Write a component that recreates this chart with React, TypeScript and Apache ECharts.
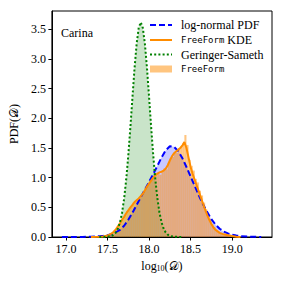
import React, { useEffect, useRef } from "react";
import * as echarts from "echarts";

// ---- data ----
const xTicks = [17.0, 17.5, 18.0, 18.5, 19.0];
const yTicks = [0, 0.5, 1.0, 1.5, 2.0, 2.5, 3.0, 3.5];

// log-normal PDF (blue dashed)
const lognX = [16.95, 17.1, 17.2, 17.3, 17.4, 17.45, 17.5, 17.55, 17.6, 17.65, 17.7, 17.75, 17.8, 17.85, 17.9, 17.95, 18.0, 18.05, 18.1, 18.15, 18.2, 18.25, 18.3, 18.35, 18.4, 18.45, 18.5, 18.55, 18.6, 18.65, 18.7, 18.75, 18.8, 18.85, 18.9, 18.95, 19.0, 19.05, 19.1, 19.2, 19.3, 19.35];
const lognY = [0.0, 0.0, 0.001, 0.004, 0.012, 0.02, 0.03, 0.05, 0.08, 0.12, 0.19, 0.29, 0.41, 0.54, 0.67, 0.8, 0.93, 1.06, 1.2, 1.34, 1.46, 1.53, 1.52, 1.45, 1.33, 1.18, 1.02, 0.86, 0.7, 0.55, 0.42, 0.3, 0.21, 0.14, 0.09, 0.06, 0.04, 0.025, 0.015, 0.006, 0.002, 0.0];

// FreeForm KDE (orange solid)
const kdeX = [17.3, 17.4, 17.45, 17.5, 17.525, 17.55, 17.575, 17.6, 17.625, 17.65, 17.675, 17.7, 17.725, 17.75, 17.775, 17.8, 17.825, 17.85, 17.875, 17.9, 17.925, 17.95, 17.975, 18.0, 18.025, 18.05, 18.075, 18.1, 18.125, 18.15, 18.175, 18.2, 18.225, 18.25, 18.275, 18.3, 18.325, 18.35, 18.375, 18.4, 18.425, 18.45, 18.475, 18.5, 18.525, 18.55, 18.575, 18.6, 18.625, 18.65, 18.675, 18.7, 18.725, 18.75, 18.775, 18.8, 18.85, 18.9, 18.95, 19.0, 19.05, 19.1];
const kdeY = [0.0, 0.005, 0.01, 0.025, 0.04, 0.06, 0.09, 0.13, 0.18, 0.23, 0.29, 0.34, 0.4, 0.45, 0.5, 0.54, 0.59, 0.62, 0.65, 0.69, 0.73, 0.79, 0.85, 0.9, 0.95, 1.0, 1.04, 1.07, 1.09, 1.1, 1.12, 1.15, 1.21, 1.29, 1.36, 1.41, 1.44, 1.47, 1.5, 1.54, 1.6, 1.5, 1.34, 1.18, 1.06, 0.96, 0.86, 0.76, 0.66, 0.56, 0.46, 0.37, 0.29, 0.22, 0.16, 0.12, 0.07, 0.045, 0.03, 0.015, 0.005, 0.0];

// Geringer-Sameth (green dotted)
const gsX = [17.4, 17.5, 17.55, 17.575, 17.6, 17.625, 17.65, 17.675, 17.7, 17.725, 17.75, 17.775, 17.8, 17.825, 17.85, 17.875, 17.9, 17.925, 17.95, 17.975, 18.0, 18.025, 18.05, 18.075, 18.1, 18.125, 18.15, 18.175, 18.2, 18.225, 18.25, 18.3, 18.4];
const gsY = [0.0, 0.004, 0.019, 0.039, 0.076, 0.142, 0.248, 0.413, 0.652, 0.974, 1.38, 1.852, 2.358, 2.845, 3.252, 3.524, 3.62, 3.524, 3.252, 2.845, 2.358, 1.852, 1.38, 0.974, 0.652, 0.413, 0.248, 0.142, 0.076, 0.039, 0.019, 0.004, 0.0];

// FreeForm histogram (orange bars)
const binStart = 17.4;
const binWidth = 0.025;
const histY = [0.0, 0.01, 0.01, 0.02, 0.03, 0.05, 0.07, 0.12, 0.15, 0.2, 0.26, 0.31, 0.36, 0.44, 0.47, 0.52, 0.58, 0.6, 0.64, 0.66, 0.72, 0.76, 0.82, 0.86, 0.93, 0.98, 0.99, 1.06, 1.08, 1.05, 1.12, 1.16, 1.14, 1.25, 1.33, 1.35, 1.43, 1.42, 1.5, 1.52, 1.58, 1.72, 1.55, 1.3, 1.2, 1.12, 0.98, 0.92, 0.78, 0.7, 0.58, 0.47, 0.38, 0.3, 0.22, 0.17, 0.12, 0.09, 0.07, 0.05, 0.04, 0.03, 0.02, 0.015, 0.01, 0.005];

const SERIF = "'Liberation Serif', 'DejaVu Serif', serif";
const MONO = "'DejaVu Sans Mono', 'Liberation Mono', monospace";
const CALD = "\u{1D49F}";

const pairs = (xs: number[], ys: number[]) => xs.map((x, i) => [x, ys[i]]);

export default function App() {
  const ref = useRef<HTMLDivElement>(null);
  useEffect(() => {
    if (!ref.current) return;
    const chart = echarts.init(ref.current, null, { renderer: "svg" });
    const histData = histY.map((h, i) => [
      +(binStart + i * binWidth).toFixed(4),
      +(binStart + (i + 1) * binWidth).toFixed(4),
      h,
    ]);
    const legendX0 = 150;
    const legendX1 = 172;
    const textX = 181;
    const rows = [25, 40, 54.5, 69];
    chart.setOption({
      animation: false,
      textStyle: { fontFamily: SERIF },
      grid: {
        left: 50,
        right: 12,
        top: 11,
        bottom: 47,
        show: true,
        borderColor: "#000",
        borderWidth: 1,
        backgroundColor: "transparent",
      },
      xAxis: {
        type: "value",
        min: 16.83,
        max: 19.48,
        name: "log{s|10}(" + CALD + ")",
        nameLocation: "middle",
        nameGap: 21,
        nameTextStyle: {
          fontFamily: SERIF,
          fontSize: 12,
          color: "#000",
          rich: { s: { fontSize: 8, fontFamily: SERIF, color: "#000", verticalAlign: "bottom", padding: [6, 0, 0, 0] } },
        },
        axisLine: { show: true, onZero: false, lineStyle: { color: "#000", width: 1 } },
        axisTick: { show: true, customValues: xTicks, length: 3.5, lineStyle: { color: "#000" } },
        axisLabel: {
          customValues: xTicks,
          formatter: (v: number) => v.toFixed(1),
          fontFamily: SERIF,
          fontSize: 12,
          color: "#000",
          margin: 6,
        },
        splitLine: { show: false },
      },
      yAxis: {
        type: "value",
        min: 0,
        max: 3.81,
        name: "PDF(" + CALD + ")",
        nameLocation: "middle",
        nameGap: 30,
        nameRotate: 90,
        nameTextStyle: { fontFamily: SERIF, fontSize: 12, color: "#000" },
        axisLine: { show: true, onZero: false, lineStyle: { color: "#000", width: 1 } },
        axisTick: { show: true, customValues: yTicks, length: 3.5, lineStyle: { color: "#000" } },
        axisLabel: {
          customValues: yTicks,
          formatter: (v: number) => v.toFixed(1),
          fontFamily: SERIF,
          fontSize: 12,
          color: "#000",
          margin: 6,
        },
        splitLine: { show: false },
      },
      series: [
        {
          name: "log-normal fill",
          type: "line",
          data: pairs(lognX, lognY),
          symbol: "none",
          lineStyle: { width: 0, opacity: 0 },
          areaStyle: { color: "rgba(0,0,255,0.3)" },
          z: 1,
          silent: true,
        },
        {
          name: "Geringer-Sameth fill",
          type: "line",
          data: pairs(gsX, gsY),
          symbol: "none",
          lineStyle: { width: 0, opacity: 0 },
          areaStyle: { color: "rgba(0,128,0,0.3)" },
          z: 1,
          silent: true,
        },
        {
          name: "FreeForm",
          type: "custom",
          data: histData,
          encode: { x: [0, 1], y: 2 },
          z: 2,
          renderItem: (params: any, api: any) => {
            const p0 = api.coord([api.value(0), api.value(2)]);
            const p1 = api.coord([api.value(1), 0]);
            return {
              type: "rect",
              shape: { x: p0[0], y: p0[1], width: p1[0] - p0[0], height: p1[1] - p0[1] },
              style: { fill: "rgba(255,140,0,0.5)", stroke: "none" },
            };
          },
        },
        {
          name: "log-normal PDF",
          type: "line",
          data: pairs(lognX, lognY),
          symbol: "none",
          lineStyle: { color: "#0000ff", width: 2, type: [6, 3] },
          z: 3,
        },
        {
          name: "FreeForm KDE",
          type: "line",
          data: pairs(kdeX, kdeY),
          symbol: "none",
          lineStyle: { color: "#ff8c00", width: 2 },
          z: 4,
        },
        {
          name: "Geringer-Sameth",
          type: "line",
          data: pairs(gsX, gsY),
          symbol: "none",
          lineStyle: { color: "#008000", width: 2, type: [2, 2.2] },
          z: 5,
        },
      ],
      graphic: [
        {
          type: "text",
          left: 61,
          top: 27,
          style: { text: "Carina", font: "12px " + SERIF, fill: "#000" },
        },
        {
          type: "line",
          shape: { x1: legendX0, y1: rows[0], x2: legendX1, y2: rows[0] },
          style: { stroke: "#0000ff", lineWidth: 2, lineDash: [6, 3] },
        },
        {
          type: "text",
          x: textX,
          y: rows[0],
          style: { text: "log-normal PDF", font: "12px " + SERIF, fill: "#000", textVerticalAlign: "middle" },
        },
        {
          type: "line",
          shape: { x1: legendX0, y1: rows[1], x2: legendX1, y2: rows[1] },
          style: { stroke: "#ff8c00", lineWidth: 2 },
        },
        {
          type: "text",
          x: textX,
          y: rows[1],
          style: {
            text: "{m|FreeForm}{r| KDE}",
            textVerticalAlign: "middle",
            rich: {
              m: { fontFamily: MONO, fontSize: 9, fill: "#000" },
              r: { fontFamily: SERIF, fontSize: 12, fill: "#000" },
            },
          },
        },
        {
          type: "line",
          shape: { x1: legendX0, y1: rows[2], x2: legendX1, y2: rows[2] },
          style: { stroke: "#008000", lineWidth: 2, lineDash: [2, 2.2] },
        },
        {
          type: "text",
          x: textX,
          y: rows[2],
          style: { text: "Geringer-Sameth", font: "12px " + SERIF, fill: "#000", textVerticalAlign: "middle" },
        },
        {
          type: "rect",
          shape: { x: legendX0, y: rows[3] - 3.5, width: legendX1 - legendX0, height: 7 },
          style: { fill: "rgba(255,140,0,0.5)" },
        },
        {
          type: "text",
          x: textX,
          y: rows[3],
          style: { text: "FreeForm", font: "9px " + MONO, fill: "#000", textVerticalAlign: "middle" },
        },
      ],
    });
    return () => chart.dispose();
  }, []);
  return <div ref={ref} style={{ width: 284, height: 284, position: "absolute", left: 0, top: 0 }} />;
}
